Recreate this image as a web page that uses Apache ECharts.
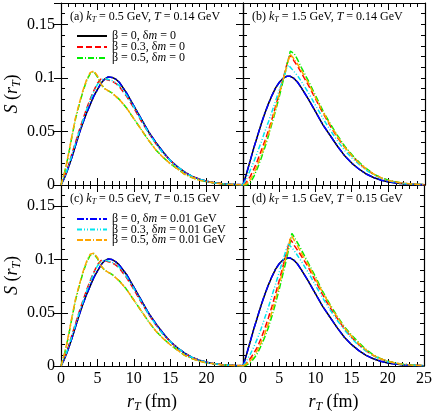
<!DOCTYPE html>
<html><head><meta charset="utf-8">
<script src="https://cdn.jsdelivr.net/npm/echarts@6/dist/echarts.min.js"></script>
<style>html,body{margin:0;padding:0;background:#fff}#c{width:435px;height:414px}</style>
</head><body><div id="c"></div>
<script>
// r_T values (fm) shared by all curves
const rT = [0,0.5,1,1.5,2,2.5,3,3.5,4,4.5,5,5.5,6,6.25,6.5,6.75,7,7.5,8,9,10,11,12,13,14,15,16,17,18,19,20,21,22,23,24,25];

const seriesNames = ['β = 0, δm = 0','β = 0.3, δm = 0','β = 0.5, δm = 0','β = 0, δm = 0.01 GeV','β = 0.3, δm = 0.01 GeV','β = 0.5, δm = 0.01 GeV'];
const panelLabels = ['(a) ','(b) ','(c) ','(d) '];
const panelKT = ['0.5','1.5','0.5','1.5'];
const panelT = ['0.14','0.14','0.15','0.15'];
const xTickLabels = ['0','5','10','15','20','25'];
const yTickLabels = ['0','0.05','0.1','0.15'];

// Panel (a): kT = 0.5 GeV, T = 0.14 GeV
const a_b0 =   [0,0.007,0.016,0.026,0.037,0.048,0.058,0.067,0.075,0.083,0.089,0.095,0.099,0.1003,0.101,0.1008,0.1005,0.099,0.096,0.086,0.074,0.062,0.050,0.040,0.031,0.023,0.017,0.012,0.008,0.0055,0.0035,0.0022,0.0013,0.0008,0.0005,0.0003];
const a_b03 =  [0,0.008,0.018,0.029,0.040,0.051,0.061,0.071,0.080,0.088,0.095,0.099,0.099,0.0985,0.098,0.0975,0.097,0.095,0.092,0.083,0.072,0.060,0.049,0.039,0.030,0.023,0.017,0.012,0.008,0.0055,0.0035,0.0022,0.0013,0.0008,0.0005,0.0003];
const a_b05 =  [0,0.012,0.027,0.045,0.062,0.075,0.087,0.097,0.104,0.106,0.101,0.094,0.090,0.089,0.088,0.087,0.086,0.083,0.080,0.072,0.062,0.052,0.042,0.033,0.026,0.020,0.015,0.010,0.007,0.0045,0.003,0.002,0.0012,0.0007,0.0004,0.0002];
const a_b0d =  [0,0.007,0.016,0.026,0.037,0.048,0.058,0.067,0.075,0.083,0.089,0.095,0.099,0.1003,0.101,0.1008,0.1005,0.099,0.096,0.086,0.074,0.062,0.050,0.040,0.031,0.023,0.017,0.012,0.008,0.0055,0.0035,0.0022,0.0013,0.0008,0.0005,0.0003];
const a_b03d = [0,0.008,0.017,0.028,0.039,0.050,0.060,0.070,0.079,0.087,0.094,0.098,0.0995,0.099,0.0985,0.098,0.0975,0.0955,0.093,0.084,0.073,0.061,0.049,0.039,0.030,0.023,0.017,0.012,0.008,0.0055,0.0035,0.0022,0.0013,0.0008,0.0005,0.0003];
const a_b05d = [0,0.012,0.028,0.046,0.063,0.076,0.088,0.098,0.105,0.1065,0.102,0.094,0.090,0.089,0.088,0.087,0.086,0.083,0.080,0.072,0.062,0.052,0.042,0.033,0.026,0.020,0.015,0.010,0.007,0.0045,0.003,0.002,0.0012,0.0007,0.0004,0.0002];

// Panel (b): kT = 1.5 GeV, T = 0.14 GeV
const b_b0 =   [0,0.011,0.023,0.035,0.046,0.057,0.067,0.076,0.084,0.091,0.096,0.0995,0.1015,0.1018,0.1015,0.1008,0.0995,0.096,0.091,0.080,0.068,0.056,0.046,0.036,0.027,0.020,0.0145,0.010,0.0068,0.0045,0.0029,0.0018,0.0011,0.0006,0.0004,0.0002];
const b_b03 =  [0,0.003,0.008,0.015,0.023,0.032,0.041,0.051,0.062,0.074,0.086,0.099,0.112,0.118,0.121,0.119,0.116,0.111,0.105,0.093,0.080,0.067,0.055,0.044,0.035,0.027,0.020,0.014,0.0097,0.0065,0.0042,0.0027,0.0016,0.001,0.0006,0.0003];
const b_b05 =  [0,0,0.002,0.008,0.016,0.025,0.035,0.046,0.058,0.070,0.083,0.097,0.111,0.118,0.125,0.126,0.123,0.117,0.110,0.097,0.083,0.069,0.057,0.046,0.036,0.028,0.021,0.015,0.010,0.0068,0.0044,0.0028,0.0017,0.001,0.0006,0.0003];
const b_b0d =  [0,0.011,0.023,0.035,0.046,0.057,0.067,0.076,0.084,0.091,0.096,0.0995,0.1015,0.1018,0.1015,0.1008,0.0995,0.096,0.091,0.080,0.068,0.056,0.046,0.036,0.027,0.020,0.0145,0.010,0.0068,0.0045,0.0029,0.0018,0.0011,0.0006,0.0004,0.0002];
const b_b03d = [0,0.006,0.014,0.022,0.031,0.040,0.050,0.059,0.069,0.079,0.089,0.099,0.109,0.112,0.110,0.108,0.106,0.102,0.097,0.086,0.074,0.062,0.051,0.041,0.032,0.025,0.019,0.0135,0.0093,0.0062,0.004,0.0025,0.0015,0.0009,0.0005,0.0003];
const b_b05d = [0,0.001,0.005,0.011,0.019,0.028,0.038,0.048,0.060,0.072,0.085,0.098,0.111,0.117,0.122,0.120,0.118,0.113,0.107,0.095,0.081,0.068,0.056,0.045,0.035,0.027,0.020,0.0145,0.010,0.0066,0.0043,0.0027,0.0016,0.001,0.0006,0.0003];

// Panel (c): kT = 0.5 GeV, T = 0.15 GeV
const c_b0 =   [0,0.007,0.016,0.026,0.037,0.048,0.058,0.067,0.075,0.083,0.089,0.095,0.099,0.1002,0.1005,0.1003,0.100,0.098,0.095,0.086,0.074,0.062,0.050,0.040,0.031,0.023,0.017,0.012,0.008,0.0055,0.0035,0.0022,0.0013,0.0008,0.0005,0.0003];
const c_b03 =  [0,0.008,0.018,0.029,0.040,0.051,0.061,0.071,0.080,0.088,0.095,0.099,0.099,0.0985,0.098,0.0975,0.097,0.095,0.092,0.083,0.072,0.060,0.049,0.039,0.030,0.023,0.017,0.012,0.008,0.0055,0.0035,0.0022,0.0013,0.0008,0.0005,0.0003];
const c_b05 =  [0,0.012,0.027,0.045,0.062,0.075,0.087,0.097,0.104,0.1055,0.101,0.094,0.090,0.089,0.088,0.087,0.086,0.083,0.080,0.072,0.062,0.052,0.042,0.033,0.026,0.020,0.015,0.010,0.007,0.0045,0.003,0.002,0.0012,0.0007,0.0004,0.0002];
const c_b0d =  [0,0.007,0.016,0.026,0.037,0.048,0.058,0.067,0.075,0.083,0.089,0.095,0.099,0.1002,0.1005,0.1003,0.100,0.098,0.095,0.086,0.074,0.062,0.050,0.040,0.031,0.023,0.017,0.012,0.008,0.0055,0.0035,0.0022,0.0013,0.0008,0.0005,0.0003];
const c_b03d = [0,0.008,0.017,0.028,0.039,0.050,0.060,0.070,0.079,0.087,0.094,0.098,0.0995,0.099,0.0985,0.098,0.0975,0.0955,0.093,0.084,0.073,0.061,0.049,0.039,0.030,0.023,0.017,0.012,0.008,0.0055,0.0035,0.0022,0.0013,0.0008,0.0005,0.0003];
const c_b05d = [0,0.012,0.028,0.046,0.063,0.076,0.088,0.098,0.105,0.106,0.102,0.094,0.090,0.089,0.088,0.087,0.086,0.083,0.080,0.072,0.062,0.052,0.042,0.033,0.026,0.020,0.015,0.010,0.007,0.0045,0.003,0.002,0.0012,0.0007,0.0004,0.0002];

// Panel (d): kT = 1.5 GeV, T = 0.15 GeV
const d_b0 =   [0,0.011,0.023,0.035,0.046,0.057,0.067,0.076,0.084,0.091,0.096,0.0995,0.1015,0.102,0.1015,0.1008,0.0995,0.096,0.091,0.080,0.068,0.056,0.046,0.036,0.027,0.020,0.0145,0.010,0.0068,0.0045,0.0029,0.0018,0.0011,0.0006,0.0004,0.0002];
const d_b03 =  [0,0.003,0.007,0.012,0.018,0.026,0.035,0.045,0.056,0.068,0.080,0.093,0.106,0.113,0.119,0.117,0.114,0.109,0.104,0.093,0.080,0.067,0.055,0.045,0.035,0.027,0.020,0.0145,0.0099,0.0066,0.0043,0.0027,0.0016,0.001,0.0006,0.0003];
const d_b05 =  [0,0.001,0.003,0.007,0.012,0.019,0.027,0.036,0.047,0.059,0.072,0.086,0.100,0.108,0.116,0.1245,0.122,0.116,0.110,0.097,0.084,0.070,0.058,0.047,0.037,0.029,0.022,0.0155,0.0105,0.007,0.0045,0.0029,0.0018,0.0011,0.0006,0.0003];
const d_b0d =  [0,0.011,0.023,0.035,0.046,0.057,0.067,0.076,0.084,0.091,0.096,0.0995,0.1015,0.102,0.1015,0.1008,0.0995,0.096,0.091,0.080,0.068,0.056,0.046,0.036,0.027,0.020,0.0145,0.010,0.0068,0.0045,0.0029,0.0018,0.0011,0.0006,0.0004,0.0002];
const d_b03d = [0,0.005,0.011,0.018,0.026,0.035,0.045,0.055,0.066,0.077,0.088,0.099,0.110,0.1145,0.113,0.111,0.109,0.104,0.099,0.088,0.076,0.064,0.053,0.043,0.034,0.026,0.019,0.014,0.0095,0.0063,0.004,0.0025,0.0015,0.0009,0.0005,0.0003];
const d_b05d = [0,0.002,0.005,0.009,0.015,0.022,0.030,0.040,0.051,0.063,0.076,0.090,0.104,0.111,0.119,0.122,0.119,0.113,0.107,0.095,0.082,0.069,0.057,0.046,0.036,0.028,0.021,0.015,0.010,0.0068,0.0044,0.0028,0.0017,0.001,0.0006,0.0003];

const panels = [
  [a_b0,a_b03,a_b05,a_b0d,a_b03d,a_b05d],
  [b_b0,b_b03,b_b05,b_b0d,b_b03d,b_b05d],
  [c_b0,c_b03,c_b05,c_b0d,c_b03d,c_b05d],
  [d_b0,d_b03,d_b05,d_b0d,d_b03d,d_b05d]
];

const FONT = 'Liberation Serif';
const styles = [
  {color:'#000000', type:'solid'},
  {color:'#ff0000', type:[6,3]},
  {color:'#00ee00', type:[6,2,1,2]},
  {color:'#0000ff', type:[7,2,2,2]},
  {color:'#00e5ee', type:[5,2,1,2,1,2]},
  {color:'#ffa500', type:[6,2,6,2,1,2]}
];

const chart = echarts.init(document.getElementById('c'), null, {renderer:'canvas'});
const gridPos = [[61,3],[243,3],[61,185],[243,185]];
const grids = gridPos.map(p => ({left:p[0], top:p[1], width:182, height:182}));
const axisLineStyle = {color:'#000', width:1.2};
const xAxes = [], yAxes = [], series = [];
const richAxis = {
  i:{fontFamily:FONT, fontStyle:'italic', fontSize:18, lineHeight:22, color:'#000'},
  n:{fontFamily:FONT, fontSize:18, lineHeight:22, color:'#000'},
  s:{fontFamily:FONT, fontStyle:'italic', fontSize:12, lineHeight:12, padding:[10,0,0,0], color:'#000'}
};
for (let g = 0; g < 4; g++) {
  const bottomRow = g >= 2, leftCol = g % 2 === 0;
  ['bottom','top'].forEach(pos => {
    xAxes.push({
      gridIndex:g, type:'value', min:0, max:25, interval:5, position:pos,
      axisLine:{show:true, onZero:false, lineStyle:axisLineStyle},
      axisTick:{show:true, inside:true, length:7, lineStyle:{color:'#000', width:1}},
      minorTick:{show:true, splitNumber:5, length:4, lineStyle:{color:'#000', width:1}},
      splitLine:{show:false}, minorSplitLine:{show:false},
      axisLabel:{show: pos==='bottom' && bottomRow, fontFamily:FONT, fontSize:16, color:'#000', margin:5,
        formatter: v => { const k = Math.round(v/5); if (leftCol && k === 5) return ''; return xTickLabels[k] || ''; }},
      name: (pos==='bottom' && bottomRow) ? '{i|r}{s|T}{n| (fm)}' : '',
      nameLocation:'middle', nameGap:25, nameTextStyle:{rich:richAxis}
    });
  });
  ['left','right'].forEach(pos => {
    yAxes.push({
      gridIndex:g, type:'value', min:0, max:0.17, interval:0.01, position:pos,
      axisLine:{show:true, onZero:false, lineStyle:axisLineStyle},
      axisTick:{show:true, inside:true, length:4, lineStyle:{color:'#000', width:1}},
      splitLine:{show:false},
      axisLabel:{show: pos==='left' && leftCol, fontFamily:FONT, fontSize:16, color:'#000', margin:6,
        formatter: v => { const r = Math.round(v*100); return (r % 5 === 0 && r <= 15) ? yTickLabels[r/5] : ''; }},
      name: (pos==='left' && leftCol) ? '{i|S}{n| (}{i|r}{s|T}{n|)}' : '',
      nameLocation:'middle', nameGap:36, nameRotate:90, nameTextStyle:{rich:richAxis}
    });
    yAxes.push({
      gridIndex:g, type:'value', min:0, max:0.17, interval:0.05, position:pos,
      axisLine:{show:false}, splitLine:{show:false}, axisLabel:{show:false},
      axisTick:{show:true, inside:true, length:7, lineStyle:{color:'#000', width:1}}
    });
  });
  panels[g].forEach((vals, k) => {
    series.push({
      type:'line', name:seriesNames[k], xAxisIndex:g*2, yAxisIndex:g*4,
      data: rT.map((x, j) => [x, vals[j]]),
      showSymbol:false, symbol:'none', smooth:false, animation:false,
      lineStyle:{color:styles[k].color, type:styles[k].type, width:1.5},
      itemStyle:{color:styles[k].color}, z: 2 + k
    });
  });
}

const titles = gridPos.map((p, g) => ({
  left: p[0] + 4, top: p[1] + 2,
  text: panelLabels[g] + '{i|k}{s|T}{n| = ' + panelKT[g] + ' GeV, }{i|T}{n| = ' + panelT[g] + ' GeV}',
  textStyle:{fontFamily:FONT, fontSize:12, fontWeight:'normal', color:'#000',
    rich:{
      i:{fontFamily:FONT, fontStyle:'italic', fontSize:12, lineHeight:14, color:'#000'},
      n:{fontFamily:FONT, fontSize:12, lineHeight:14, color:'#000'},
      s:{fontFamily:FONT, fontStyle:'italic', fontSize:8, lineHeight:8, padding:[6,0,0,0], color:'#000'}
    }}
}));

const legendText = {fontFamily:FONT, fontSize:12, color:'#000', lineHeight:10,
  rich:{i:{fontFamily:FONT, fontStyle:'italic', fontSize:12, lineHeight:10, color:'#000'}}};
const legendFmt = name => name.replace('δm', 'δ{i|m}');

chart.setOption({
  animation:false,
  backgroundColor:'#fff',
  title: titles,
  grid: grids,
  xAxis: xAxes,
  yAxis: yAxes,
  legend: [
    {data: seriesNames.slice(0,3), orient:'vertical', left:76, top:30, padding:0, itemWidth:30, itemHeight:8, itemGap:-1,
     selectedMode:false, textStyle:legendText, formatter:legendFmt, itemStyle:{opacity:0}},
    {data: seriesNames.slice(3,6), orient:'vertical', left:76, top:213, padding:0, itemWidth:30, itemHeight:8, itemGap:-1.5,
     selectedMode:false, textStyle:legendText, formatter:legendFmt, itemStyle:{opacity:0}}
  ],
  series: series
});
</script></body></html>
